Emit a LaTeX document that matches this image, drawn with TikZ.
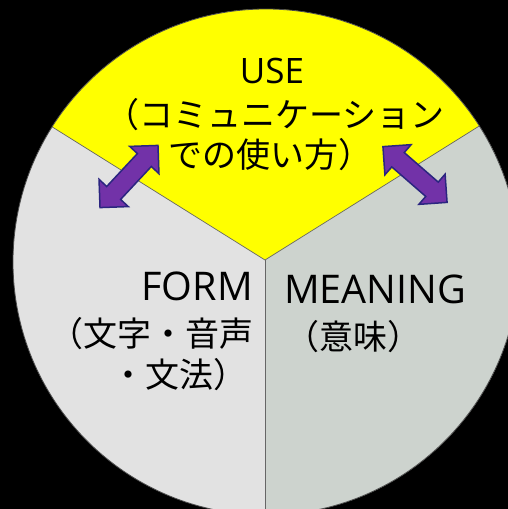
\documentclass[tikz,border=0pt]{standalone}
\usepackage{fontspec}
\setmainfont{Open Sans}
\newfontfamily\jp{Noto Sans CJK JP}
\definecolor{ylw}{HTML}{FFFF00}
\definecolor{lgray}{HTML}{E2E2E2}
\definecolor{rgray}{HTML}{CDD3CE}
\definecolor{purp}{HTML}{7232A8}
\definecolor{navy}{HTML}{2B2580}
\tikzset{
  latin/.style={inner sep=0pt, text=black, font=\fontsize{39.5}{46}\selectfont},
  uselabel/.style={inner sep=0pt, text=black, font=\fontsize{35}{40}\selectfont},
  jptext/.style={inner sep=0pt, text=black, font=\jp\fontsize{34}{40}\selectfont},
  dblarrow/.style={fill=purp, draw=navy, line width=1.5pt, line join=miter},
  divider/.style={draw=black!60, line width=0.7pt},
}
\begin{document}
\begin{tikzpicture}[x=1pt,y=-1pt]
\fill[black] (0,0) rectangle (508,509);
\useasboundingbox (0,0) rectangle (508,509);
\coordinate (c) at (266,262);
\coordinate (v) at (265,260);
\coordinate (ul) at (-74,48);
\coordinate (ur) at (604,48);
\coordinate (bot) at (265,600);
\begin{scope}
  \clip (0,0) rectangle (508,509);
  \fill[lgray] (c) circle (253pt);
  \begin{scope}
    \clip (c) circle (253pt);
    \fill[rgray] (v) -- (ur) -- (604,600) -- (bot) -- cycle;
    \fill[ylw] (v) -- (ul) -- (-74,-200) -- (604,-200) -- (ur) -- cycle;
    \draw[divider] (ul) -- (v) -- (ur);
    \draw[divider] (v) -- (bot);
  \end{scope}
  \draw[black!70, line width=0.8pt] (c) circle (253pt);
\end{scope}
% double arrows
\path[dblarrow, shift={(129,176.5)}, rotate=47]
  (-42.5,0) -- (-22.5,20) -- (-22.5,9.5) -- (22.5,9.5) -- (22.5,20) -- (42.5,0)
  -- (22.5,-20) -- (22.5,-9.5) -- (-22.5,-9.5) -- (-22.5,-20) -- cycle;
\path[dblarrow, shift={(415,174.5)}, rotate=-41]
  (-42.5,0) -- (-22.5,20) -- (-22.5,9.5) -- (22.5,9.5) -- (22.5,20) -- (42.5,0)
  -- (22.5,-20) -- (22.5,-9.5) -- (-22.5,-9.5) -- (-22.5,-20) -- cycle;
% texts
\node[uselabel, anchor=base] (use) at (272,83) {USE};
\node[jptext, anchor=base] (use2) at (275,127) {（コミュニケーション};
\node[jptext, anchor=base] (use3) at (270,167) {での使い方）};
\node[latin, anchor=base east] (form) at (253,300) {FORM};
\node[latin, anchor=base west] (meaning) at (284,303) {MEANING};
\node[jptext, anchor=base east] (form2) at (254,346) {（文字・音声};
\node[jptext, anchor=base east] (form3) at (248,387) {・文法）};
\node[jptext, anchor=base] (mean2) at (353,349) {（意味）};
\end{tikzpicture}
\end{document}
